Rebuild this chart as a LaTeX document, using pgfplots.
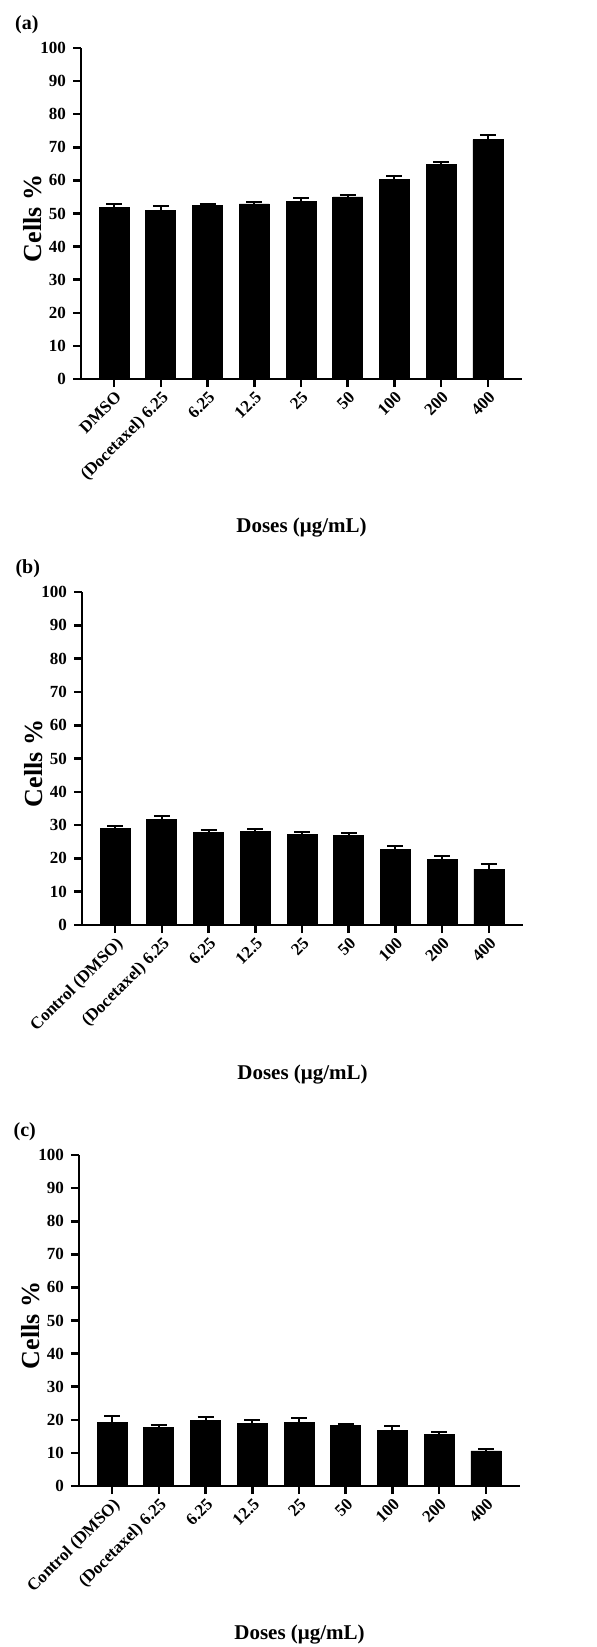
\documentclass[border=0pt]{standalone}
\usepackage{fontspec}
\setmainfont{Liberation Serif}
\usepackage{pgfplots}
\usepackage{pgfplotstable}
\pgfplotsset{compat=1.18}

% x = position, y = mean, err = upper error
\pgfplotstableread{
x y err
0 51.8 1.2
1 51.0 1.2
2 52.4 0.6
3 52.9 0.7
4 53.7 1.0
5 55.0 0.5
6 60.2 1.1
7 64.8 0.8
8 72.3 1.5
}\dataa
\pgfplotstableread{
x y err
0 28.9 0.9
1 31.6 1.0
2 27.8 0.6
3 28.2 0.7
4 27.2 0.7
5 26.8 0.8
6 22.8 0.8
7 19.6 1.0
8 16.8 1.4
}\datab
\pgfplotstableread{
x y err
0 19.2 2.0
1 17.6 0.9
2 19.9 1.1
3 18.9 1.1
4 19.1 1.6
5 18.2 0.5
6 16.9 1.2
7 15.5 0.8
8 10.6 0.5
}\datac

\pgfplotsset{
  cellsbar/.style={
    width=220.5pt, height=165.5pt, scale only axis,
    anchor=south west,
    ymin=0, ymax=100, ytick={0,10,...,100},
    xmin=-0.71, xmax=8.73, xtick={0,...,8},
    axis x line=bottom, axis y line=left,
    axis line style={-, line width=1.3pt},
    tick align=outside, major tick length=4pt,
    tick style={line width=1.3pt, black},
    ybar, bar width=15pt,
    ticklabel style={font=\fontsize{8.5}{10}\selectfont\bfseries},
    /pgf/number format/assume math mode=true,
    x tick label style={rotate=45, anchor=north east, inner sep=1pt},
    xlabel={Doses (μg/mL)},
    xlabel style={at={(axis description cs:0.5,-0.45)}, anchor=center,
                  font=\fontsize{10.5}{12}\selectfont\bfseries},
    ylabel={Cells \%},
    ylabel style={at={(axis description cs:-0.11,0.485)}, anchor=center,
                  font=\fontsize{13}{15}\selectfont\bfseries},
  },
  panel/.style={
    after end axis/.append code={
      \node[font=\fontsize{10}{12}\selectfont\bfseries, inner sep=0pt]
        at (axis description cs:-0.123,1.07) {#1};
    },
  },
  cellsplot/.style={
    fill=black, draw=black,
    error bars/.cd, y dir=plus, y explicit, error mark=|,
    error bar style={line width=1pt, black},
    error mark options={line width=1pt, mark size=4pt, black},
  },
}

\begin{document}
\begin{tikzpicture}
  \useasboundingbox (0,0) rectangle (298pt,-823.5pt);

  \begin{axis}[cellsbar, at={(40.5pt,-189.5pt)}, panel={(a)},
      xticklabels={DMSO,{(Docetaxel) 6.25},6.25,12.5,25,50,100,200,400}]
    \addplot[cellsplot] table[x=x, y=y, y error=err] {\dataa};
  \end{axis}

  \begin{axis}[cellsbar, at={(41pt,-462.5pt)}, height=166.5pt, panel={(b)},
      xticklabels={Control (DMSO),{(Docetaxel) 6.25},6.25,12.5,25,50,100,200,400}]
    \addplot[cellsplot] table[x=x, y=y, y error=err] {\datab};
  \end{axis}

  \begin{axis}[cellsbar, at={(39.5pt,-743pt)}, panel={(c)},
      xticklabels={Control (DMSO),{(Docetaxel) 6.25},6.25,12.5,25,50,100,200,400}]
    \addplot[cellsplot] table[x=x, y=y, y error=err] {\datac};
  \end{axis}
\end{tikzpicture}
\end{document}
